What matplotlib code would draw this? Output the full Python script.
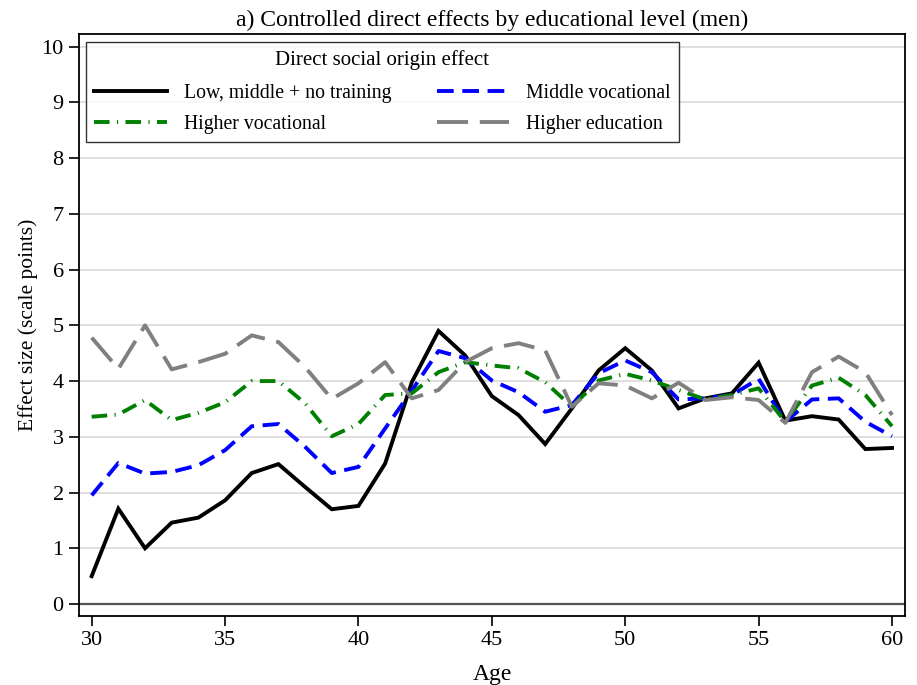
import matplotlib
matplotlib.use("Agg")
import matplotlib.pyplot as plt

plt.rcParams['font.family'] = ['Liberation Serif', 'DejaVu Serif']

ages = list(range(30, 61))
low_mid = [0.50, 1.71, 1.00, 1.46, 1.55, 1.86, 2.35, 2.51, 2.10, 1.70, 1.76,
           2.52, 3.98, 4.90, 4.46, 3.73, 3.39, 2.87, 3.51, 4.19, 4.59,
           4.19, 3.51, 3.69, 3.78, 4.33, 3.29, 3.37, 3.31, 2.78, 2.80]
mid_voc = [1.95, 2.53, 2.34, 2.37, 2.49, 2.76, 3.19, 3.23, 2.82, 2.35, 2.46,
           3.15, 3.83, 4.54, 4.41, 4.01, 3.80, 3.45, 3.57, 4.14, 4.37,
           4.16, 3.67, 3.69, 3.75, 4.04, 3.27, 3.67, 3.69, 3.27, 3.01]
high_voc = [3.36, 3.40, 3.66, 3.30, 3.43, 3.62, 4.00, 4.00, 3.60, 3.01, 3.23,
            3.75, 3.78, 4.16, 4.34, 4.28, 4.23, 3.98, 3.54, 4.01, 4.13,
            4.01, 3.84, 3.67, 3.75, 3.87, 3.27, 3.92, 4.06, 3.75, 3.19]
high_edu = [4.78, 4.22, 5.00, 4.21, 4.34, 4.49, 4.82, 4.70, 4.25, 3.68, 3.96,
            4.34, 3.69, 3.84, 4.34, 4.59, 4.68, 4.55, 3.54, 3.96, 3.92,
            3.69, 3.97, 3.66, 3.71, 3.66, 3.25, 4.16, 4.44, 4.16, 3.39]

labels = ["Low, middle + no training", "Middle vocational",
          "Higher vocational", "Higher education"]
yticks = list(range(0, 11))
xticks = [30, 35, 40, 45, 50, 55, 60]

fig = plt.figure(figsize=(9.17, 6.85), dpi=100)
ax = fig.add_axes([79/917, 1 - 615.7/685, (905-79)/917, (615.7-34)/685])

for y in yticks:
    ax.axhline(y, color='#dcdcdc', lw=1.3, zorder=0)
ax.axhline(0, color='#555555', lw=1.6, zorder=1)

lw = 2.8
l1, = ax.plot(ages, low_mid, color='black', lw=lw, solid_joinstyle='miter', zorder=3)
l2, = ax.plot(ages, mid_voc, color='#0000ff', lw=lw, dashes=(4.3, 2.2), zorder=4)
l3, = ax.plot(ages, high_voc, color='#008000', lw=lw, dashes=(4.0, 1.9, 0.3, 1.9), zorder=5)
l4, = ax.plot(ages, high_edu, color='#808080', lw=lw, dashes=(8.0, 3.0), zorder=6)

ax.set_xlim(29.525, 60.487)
ax.set_ylim(-0.21, 10.228)
ax.set_xticks(xticks)
ax.set_yticks(yticks)
ax.tick_params(axis='both', direction='out', length=7, width=1.2, labelsize=16,
               colors='black', pad=4)
for s in ax.spines.values():
    s.set_linewidth(1.3)
    s.set_color('black')

ax.set_xlabel("Age", fontsize=17, labelpad=10)
ax.set_ylabel("Effect size (scale points)", fontsize=15.5)
ax.yaxis.set_label_coords((38 - 79) / 826, 0.5)
ax.set_title("a) Controlled direct effects by educational level (men)",
             fontsize=17, pad=6)

# legend filled row-wise like the reference
handles = [l1, l3, l2, l4]
leg_labels = [labels[0], labels[2], labels[1], labels[3]]
leg = ax.legend(handles, leg_labels, ncol=2, loc='upper left',
                bbox_to_anchor=(0.0085, 0.988 - 1.5 / 581.7),
                title="Direct social origin effect",
                fontsize=14.2, title_fontsize=15, handlelength=3.7,
                columnspacing=2.3, frameon=True, fancybox=False,
                borderpad=0.4, labelspacing=0.6, handletextpad=0.85,
                borderaxespad=0.0)
leg._legend_box.sep = 9.8
leg.get_frame().set_edgecolor('black')
leg.get_frame().set_linewidth(1.0)
leg.set_zorder(10)

fig.savefig("out.png", dpi=100)
